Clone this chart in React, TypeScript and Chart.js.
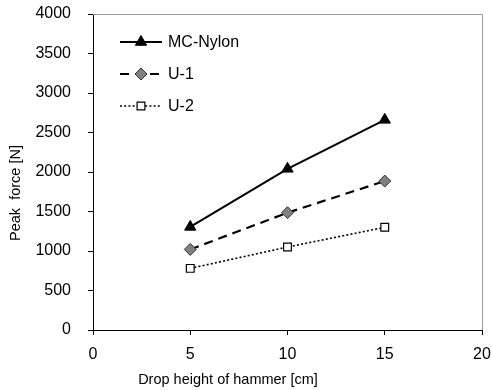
import React, { useEffect, useRef } from "react";
import { Chart, registerables } from "chart.js";
import { drawPoint } from "chart.js/helpers";

Chart.register(...registerables);

const dropHeights = [5, 10, 15];
const mcNylon = [1305, 2040, 2660];
const u1 = [1020, 1485, 1885];
const u2 = [780, 1050, 1300];
const seriesNames = ["MC-Nylon", "U-1", "U-2"];
const xTitle = "Drop height of hammer [cm]";
const yTitle = "Peak  force [N]";

const FONT = "'Liberation Sans', Arial, sans-serif";

const customPlugin = {
  id: "custom",
  afterDraw(chart: any) {
    const ctx = chart.ctx;
    const a = chart.chartArea;
    ctx.save();
    // top and right frame
    ctx.strokeStyle = "#9a9a9a";
    ctx.lineWidth = 1;
    ctx.beginPath();
    ctx.moveTo(a.left, a.top + 0.5);
    ctx.lineTo(a.right + 0.5, a.top + 0.5);
    ctx.lineTo(a.right + 0.5, a.bottom);
    ctx.stroke();

    // legend
    const lx0 = a.left + 27;
    const lx1 = a.left + 69;
    const tx = a.left + 75;
    let ly = a.top + 28;
    chart.data.datasets.forEach((ds: any) => {
      ctx.save();
      ctx.strokeStyle = ds.borderColor;
      ctx.lineWidth = ds.borderWidth;
      ctx.setLineDash(ds.borderDash || []);
      ctx.beginPath();
      ctx.moveTo(lx0, ly);
      ctx.lineTo(lx1, ly);
      ctx.stroke();
      ctx.restore();
      ctx.save();
      ctx.fillStyle = ds.pointBackgroundColor;
      ctx.strokeStyle = ds.pointBorderColor;
      ctx.lineWidth = ds.pointBorderWidth;
      drawPoint(ctx, { pointStyle: ds.pointStyle, radius: ds.pointRadius, rotation: 0, borderWidth: ds.pointBorderWidth }, (lx0 + lx1) / 2, ly);
      ctx.restore();
      ctx.fillStyle = "#000";
      ctx.font = `16px ${FONT}`;
      ctx.textAlign = "left";
      ctx.textBaseline = "middle";
      ctx.fillText(ds.label, tx, ly + 1);
      ly += 32;
    });

    // axis titles
    ctx.fillStyle = "#000";
    ctx.font = `14.5px ${FONT}`;
    ctx.textAlign = "center";
    ctx.textBaseline = "middle";
    ctx.fillText(xTitle, 228, 380);
    ctx.save();
    ctx.translate(16, 193);
    ctx.rotate(-Math.PI / 2);
    ctx.fillText(yTitle, 0, 0);
    ctx.restore();
    ctx.restore();
  },
};

export default function App() {
  const ref = useRef<HTMLCanvasElement>(null);
  useEffect(() => {
    const toPts = (ys: number[]) => dropHeights.map((x, i) => ({ x, y: ys[i] }));
    const chart = new Chart(ref.current!, {
      type: "line",
      data: {
        datasets: [
          {
            label: seriesNames[0],
            data: toPts(mcNylon),
            borderColor: "#000",
            borderWidth: 2,
            pointStyle: "triangle",
            pointRadius: 6.5,
            pointBackgroundColor: "#000",
            pointBorderColor: "#000",
            pointBorderWidth: 1,
          },
          {
            label: seriesNames[1],
            data: toPts(u1),
            borderColor: "#000",
            borderWidth: 2.2,
            borderDash: [9, 6],
            pointStyle: "rectRot",
            pointRadius: 6,
            pointBackgroundColor: "#808080",
            pointBorderColor: "#333",
            pointBorderWidth: 1,
          },
          {
            label: seriesNames[2],
            data: toPts(u2),
            borderColor: "#000",
            borderWidth: 1.6,
            borderDash: [2, 2.2],
            pointStyle: "rect",
            pointRadius: 5.5,
            pointBackgroundColor: "#fff",
            pointBorderColor: "#000",
            pointBorderWidth: 1.2,
          },
        ] as any,
      },
      options: {
        animation: false,
        responsive: false,
        layout: { padding: { top: 14, right: 10, left: 0, bottom: 0 } },
        plugins: { legend: { display: false }, tooltip: { enabled: false } },
        scales: {
          x: {
            type: "linear",
            min: 0,
            max: 20,
            afterFit: (s: any) => { s.height = 60; s.paddingLeft = 0; s.paddingRight = 0; },
            ticks: { stepSize: 5, color: "#000", font: { size: 16, family: FONT }, padding: 10, maxRotation: 0, callback: (v: any) => String(v) },
            grid: { drawOnChartArea: false, tickLength: 5, color: "#000" },
            border: { color: "#000", width: 1 },
          },
          y: {
            type: "linear",
            min: 0,
            max: 4000,
            afterFit: (s: any) => { s.width = 93; s.paddingTop = 0; s.paddingBottom = 0; },
            ticks: { stepSize: 500, color: "#000", font: { size: 16, family: FONT }, padding: 17, callback: (v: any) => String(v) },
            grid: { drawOnChartArea: false, tickLength: 5, color: "#000" },
            border: { color: "#000", width: 1 },
          },
        },
      },
      plugins: [customPlugin],
    });
    return () => chart.destroy();
  }, []);
  return (
    <div style={{ position: "fixed", left: 0, top: 0, width: 492, height: 390, background: "#fff" }}>
      <canvas ref={ref} width={492} height={390} style={{ display: "block" }} />
    </div>
  );
}
